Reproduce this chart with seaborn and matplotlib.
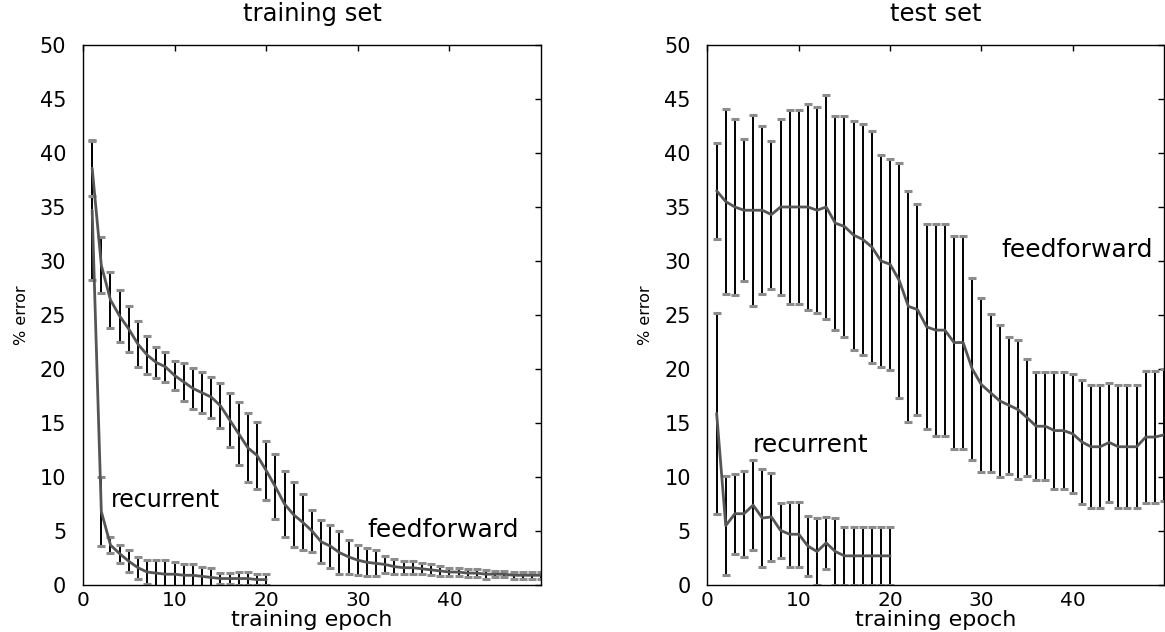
import numpy as np
import pandas as pd
import matplotlib
matplotlib.use("Agg")
import matplotlib.pyplot as plt
import seaborn as sns

# ---- data: mean % error and error-bar half widths per training epoch ----
train_ff_mean = [38.6, 29.6, 26.4, 24.9, 23.7, 22.3, 21.3, 20.6, 20.2, 19.4,
                 18.8, 18.2, 17.8, 17.4, 16.6, 15.3, 14.0, 12.7, 12.0, 10.6,
                 9.1, 7.5, 6.5, 5.8, 5.0, 4.0, 3.6, 3.0, 2.6, 2.3,
                 2.1, 2.0, 1.9, 1.7, 1.6, 1.6, 1.5, 1.4, 1.3, 1.2,
                 1.2, 1.1, 1.1, 1.0, 1.0, 1.0, 0.9, 0.9, 0.9, 0.9]
train_ff_err = [2.55, 2.6, 2.6, 2.4, 2.1, 2.1, 1.8, 1.4, 1.4, 1.3,
                1.8, 1.9, 1.9, 1.9, 2.1, 2.5, 2.9, 3.2, 3.1, 2.7,
                3.0, 3.1, 3.0, 2.6, 1.9, 2.0, 2.0, 2.0, 1.6, 1.4,
                1.3, 1.2, 0.8, 0.7, 0.6, 0.6, 0.5, 0.5, 0.5, 0.4,
                0.4, 0.4, 0.4, 0.4, 0.3, 0.3, 0.3, 0.3, 0.3, 0.3]
train_rec_mean = [34.7, 6.8, 3.7, 2.9, 2.2, 1.6, 1.2, 1.1, 1.0, 1.0,
                  0.9, 0.9, 0.8, 0.7, 0.6, 0.6, 0.6, 0.6, 0.5, 0.5]
train_rec_err = [6.5, 3.2, 0.7, 0.85, 1.0, 1.0, 1.1, 1.2, 1.3, 1.1,
                 1.0, 1.0, 0.9, 0.9, 0.5, 0.5, 0.6, 0.6, 0.5, 0.5]

test_ff_mean = [36.5, 35.5, 35.0, 34.7, 34.7, 34.7, 34.3, 35.0, 35.0, 35.0,
                35.0, 34.7, 35.0, 33.5, 33.2, 32.4, 32.0, 31.3, 30.0, 29.7,
                28.2, 25.8, 25.5, 23.9, 23.6, 23.6, 22.45, 22.45, 20.0, 18.55,
                17.8, 17.05, 16.65, 16.25, 15.5, 14.7, 14.7, 14.3, 14.3, 14.0,
                13.25, 12.8, 12.8, 13.2, 12.8, 12.8, 12.8, 13.7, 13.7, 13.9]
test_ff_err = [4.45, 8.55, 8.15, 6.55, 8.85, 7.8, 6.85, 8.15, 8.95, 8.95,
               9.5, 9.55, 10.35, 9.9, 10.25, 10.6, 10.7, 10.75, 9.85, 9.75,
               10.85, 10.7, 9.75, 9.5, 9.8, 9.8, 9.85, 9.85, 8.45, 8.05,
               7.3, 7.05, 6.35, 6.45, 5.4, 5.0, 5.0, 5.4, 5.4, 5.5,
               5.75, 5.7, 5.7, 5.5, 5.7, 5.7, 5.7, 6.1, 6.1, 6.1]
test_rec_mean = [15.9, 5.5, 6.6, 6.6, 7.4, 6.2, 6.3, 5.05, 4.7, 4.7,
                 3.6, 3.1, 3.9, 3.1, 2.7, 2.7, 2.7, 2.7, 2.7, 2.7]
test_rec_err = [9.3, 4.6, 3.7, 4.0, 4.2, 4.5, 4.1, 2.55, 3.0, 3.0,
                2.8, 3.1, 2.4, 3.1, 2.7, 2.7, 2.7, 2.7, 2.7, 2.7]

x_ticks = [0, 10, 20, 30, 40]
y_ticks = list(range(0, 51, 5))

sns.set_style("white")
plt.rcParams.update({
    "font.family": ["DejaVu Sans"],
    "text.color": "black",
    "axes.labelcolor": "black",
    "xtick.color": "black",
    "ytick.color": "black",
    "xtick.direction": "in",
    "ytick.direction": "in",
    "xtick.top": True,
    "ytick.right": True,
    "xtick.major.size": 4.5,
    "ytick.major.size": 4.5,
    "xtick.major.width": 1.0,
    "ytick.major.width": 1.0,
    "axes.linewidth": 1.0,
    "axes.edgecolor": "black",
})

fig = plt.figure(figsize=(11.65, 6.32), dpi=100)
ax_train = fig.add_axes([83 / 1165, 47 / 632, 458 / 1165, 540 / 632])
ax_test = fig.add_axes([707.5 / 1165, 47 / 632, 456.5 / 1165, 540 / 632])


def draw_curve(ax, mean, err):
    epochs = np.arange(1, len(mean) + 1)
    df = pd.DataFrame({"epoch": epochs, "error": mean})
    eb = ax.errorbar(epochs, mean, yerr=err, fmt="none", ecolor="black",
                     elinewidth=1.4, capsize=3.2, capthick=2.2, zorder=2)
    for cap in eb[1]:
        cap.set_markeredgecolor("#8c8c8c")
        cap.set_zorder(2.5)
    sns.lineplot(data=df, x="epoch", y="error", ax=ax, color="#555555",
                 lw=2.0, zorder=3)


def style_axes(ax, title):
    ax.set_xlim(0, 50)
    ax.set_ylim(0, 50)
    ax.set_xticks(x_ticks)
    ax.set_yticks(y_ticks)
    ax.tick_params(axis="y", labelsize=15, pad=12)
    ax.tick_params(axis="x", labelsize=14.5, pad=4)
    ax.set_title(title, fontsize=17.5, pad=17)
    ax.set_xlabel("training epoch", fontsize=16, labelpad=0)
    ax.set_ylabel("% error", fontsize=11.5, labelpad=8)
    for s in ax.spines.values():
        s.set_visible(True)
        s.set_color("black")


draw_curve(ax_train, train_ff_mean, train_ff_err)
draw_curve(ax_train, train_rec_mean, train_rec_err)
style_axes(ax_train, "training set")
ax_train.text(3.0, 7.9, "recurrent", fontsize=17, va="center", ha="left")
ax_train.text(31.0, 5.1, "feedforward", fontsize=18, va="center", ha="left")

draw_curve(ax_test, test_ff_mean, test_ff_err)
draw_curve(ax_test, test_rec_mean, test_rec_err)
style_axes(ax_test, "test set")
ax_test.text(5.0, 13.0, "recurrent", fontsize=18, va="center", ha="left")
ax_test.text(32.2, 31.0, "feedforward", fontsize=18, va="center", ha="left")

fig.savefig("out.png", dpi=100)
